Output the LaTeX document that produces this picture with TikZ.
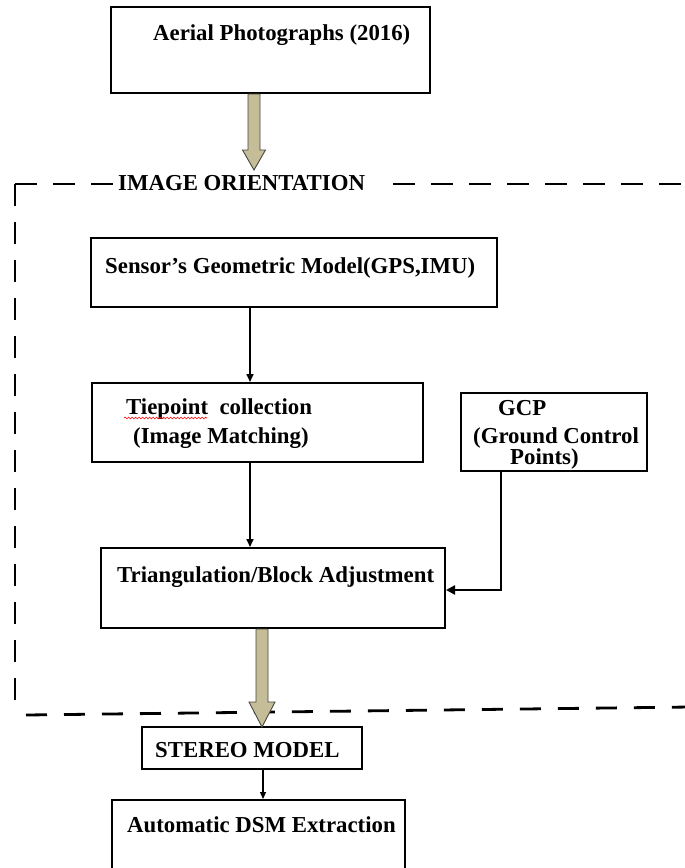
\documentclass[tikz,border=0pt]{standalone}
\usepackage{fontspec}
\setmainfont{Liberation Serif}
\usetikzlibrary{arrows.meta,calc,decorations.pathmorphing}
\definecolor{tanfill}{RGB}{196,189,151}
\definecolor{tanedge}{RGB}{70,70,65}
% #1 start, #2 tip, #3 head half width, #4 head length
\newcommand\fatarr[4]{%
  \draw[fatstyle] ($(#1)+(-6,0)$) -- ($(#2)+(-6,-#4)$) -- ($(#2)+(-#3,-#4)$) -- (#2)
    -- ($(#2)+(#3,-#4)$) -- ($(#2)+(6,-#4)$) -- ($(#1)+(6,0)$) -- cycle;}
\tikzset{
  box/.style={draw=black, line width=2pt, inner sep=0pt},
  lbl/.style={font=\bfseries\fontsize{22.8}{26}\selectfont, anchor=base west, inner sep=0pt},
  thinarrow/.style={line width=1.6pt, -{Triangle[length=8pt,width=7pt]}},
  gcparrow/.style={line width=2.4pt, -{Triangle[length=9pt,width=9pt]}},
  fatstyle/.style={fill=tanfill, draw=tanedge, line width=0.9pt, line join=miter},
  frame/.style={line width=2.8pt, draw=black, dash pattern=on 22pt off 16pt},
  wavy/.style={draw=red, line width=0.6pt, decorate, decoration={snake, amplitude=0.9pt, segment length=3.5pt}}
}
\begin{document}
\begin{tikzpicture}[x=1pt,y=-1pt]
\useasboundingbox (0,0) rectangle (685,868);
\fill[white] (0,0) rectangle (685,868);

% dashed frame
\draw[frame] (15,184) -- (113,184);
\draw[frame] (393,184) -- (690,184);
\draw[frame] (15,184) -- (15,700);
\draw[frame, dash pattern=on 21pt off 17pt] (26,715) -- (690,707);
\node[lbl] (orient) at (118,190) {IMAGE ORIENTATION};

% boxes
\node[box, minimum width=319pt, minimum height=86pt] (aerial) at (270.5,50) {};
\node[box, minimum width=406pt, minimum height=69pt] (sensor) at (294,272.5) {};
\node[box, minimum width=331pt, minimum height=79pt] (tie) at (257.5,422.5) {};
\node[box, minimum width=186pt, minimum height=78pt] (gcp) at (554,432) {};
\node[box, minimum width=344pt, minimum height=80pt] (tri) at (273,588) {};
\node[box, minimum width=220pt, minimum height=42pt] (stereo) at (252,748) {};
\node[box, minimum width=293pt, minimum height=80pt] (dsm) at (258.5,840) {};

% texts
\node[lbl] (taerial) at (153,40) {Aerial Photographs (2016)};
\node[lbl] (tsensor) at (105,273) {Sensor’s Geometric Model(GPS,IMU)};
\node[lbl] (ttie1) at (126,414) {Tiepoint\ \ collection};
\node[lbl] (ttie2) at (133,443) {(Image Matching)};
\node[lbl] (tgcp1) at (498,415) {GCP};
\node[lbl] (tgcp2) at (473,443) {(Ground Control};
\node[lbl] (tgcp3) at (510,464) {Points)};
\node[lbl] (ttri) at (117,582) {Triangulation/Block Adjustment};
\node[lbl] (tstereo) at (155,757) {STEREO MODEL};
\node[lbl] (tdsm) at (127,832) {Automatic DSM Extraction};
\draw[wavy] (124,418) -- (207,418);

% helper coordinates
\coordinate (ax1) at (254,0);
\coordinate (ax2) at (262,0);
\coordinate (ax3) at (250,0);
\coordinate (ax4) at (263,0);
\coordinate (gx) at (501,0);
\coordinate (gy) at (0,590);
\coordinate (tip1) at (254,170);
\coordinate (tip2) at (262,727);
\coordinate (s1) at (aerial.south -| ax1);
\coordinate (s2) at (tri.south -| ax2);

% fat arrows
\fatarr{s1}{tip1}{11.5}{20}
\fatarr{s2}{tip2}{13}{25}

% connectors
\draw[thinarrow] (sensor.south -| ax3) -- (tie.north -| ax3);
\draw[thinarrow] (tie.south -| ax3) -- (tri.north -| ax3);
\draw[line width=1.1pt, -{Triangle[length=7pt,width=6pt]}] (stereo.south -| ax4) -- (dsm.north -| ax4);
\draw[gcparrow] (gcp.south -| gx) |- (tri.east |- gy);
\end{tikzpicture}
\end{document}
